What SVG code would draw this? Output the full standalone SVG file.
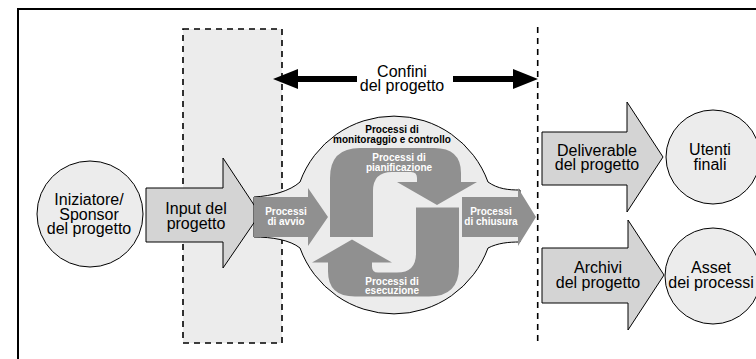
<svg xmlns="http://www.w3.org/2000/svg" width="756" height="359" viewBox="0 0 756 359">
  <defs>
    <style>
      .frame { fill: none; stroke: #000; stroke-width: 2; }
      .dash { stroke: #000; stroke-width: 1.6; stroke-dasharray: 6 5; }
      .pale { fill: #ececec; }
      .node { fill: #ececec; stroke: #000; stroke-width: 1; }
      .flow { fill: #d4d4d4; stroke: #000; stroke-width: 1; }
      .proc { fill: #909090; }
      .lbl { font-family: "Liberation Sans", Arial, sans-serif; font-size: 16px; fill: #000; text-anchor: middle; }
      .plbl { font-family: "Liberation Sans", Arial, sans-serif; font-size: 10px; font-weight: bold; fill: #fff; text-anchor: middle; }
      .mlbl { font-family: "Liberation Sans", Arial, sans-serif; font-size: 10px; font-weight: bold; fill: #000; text-anchor: middle; }
    </style>
    <!-- bent process arrow, drawn once and reused rotated -->
    <path id="hook" d="M 330,237 L 330,178 Q 330,148 360,148 L 434,148 Q 461,148 461,173 L 461,182 L 477,182 L 437,205 L 397,182 L 417,182 L 417,178 Q 417,172 411,172 L 392,172 Q 373,172 373,191 L 373,237 Z"/>
  </defs>

  <!-- outer frame (runs past the right and bottom edges) -->
  <rect class="frame" x="18" y="9" width="760" height="360"/>

  <!-- project boundary zone -->
  <g id="boundary">
    <rect class="pale" x="183" y="29" width="99" height="314"/>
    <rect x="183" y="29" width="99" height="314" fill="none" class="dash"/>
    <line class="dash" x1="537.7" y1="27" x2="537.7" y2="344"/>
  </g>

  <!-- connectors -->
  <g id="connectors">
    <g id="boundary-arrows" fill="#000">
      <rect x="296" y="76" width="61" height="6"/>
      <polygon points="273,79 298,69 298,89"/>
      <rect x="453" y="76" width="62" height="6"/>
      <polygon points="538,79 513,69 513,89"/>
    </g>
  </g>
  <text class="lbl" x="402" y="76.5">Confini</text>
  <text class="lbl" x="402" y="91">del progetto</text>

  <g id="sponsor">
    <circle class="node" cx="90" cy="214" r="53"/>
    <text class="lbl" x="89" y="205">Iniziatore/</text>
    <text class="lbl" x="89" y="219.5">Sponsor</text>
    <text class="lbl" x="89" y="234">del progetto</text>
  </g>

  <g id="input">
    <polygon class="flow" points="146,188 223,188 223,158 260,214 223,268 223,242 146,242"/>
    <text class="lbl" x="196" y="214">Input del</text>
    <text class="lbl" x="196" y="228.5">progetto</text>
  </g>

  <g id="processes">
    <path class="node" stroke-width="1.5" d="M 254,197 C 272,196 290,191 300,182 A 100 100 0 0 1 488,182 C 498,189 508,190 520,190 L 520,242 C 508,242 498,243 488,248 A 100 100 0 0 1 300,248 C 290,240 272,237 254,237 Z"/>
    <text class="mlbl" x="392" y="132.5">Processi di</text>
    <text class="mlbl" x="392" y="143">monitoraggio e controllo</text>

    <g id="initiating">
      <polygon class="proc" points="254,197 308,197 308,188 328,217 308,246 308,237 254,237"/>
      <text class="plbl" x="286" y="215">Processi</text>
      <text class="plbl" x="286" y="224.5">di avvio</text>
    </g>

    <g id="planning">
      <use href="#hook" class="proc"/>
      <text class="plbl" x="399" y="161">Processi di</text>
      <text class="plbl" x="399" y="170.5">pianificazione</text>
    </g>

    <g id="executing">
      <use href="#hook" class="proc" transform="rotate(180 394.5 222.3)"/>
      <text class="plbl" x="392" y="284.5">Processi di</text>
      <text class="plbl" x="392" y="294">esecuzione</text>
    </g>

    <g id="closing">
      <polygon class="proc" points="462,197 518,197 518,188 536,217 518,246 518,237 462,237"/>
      <text class="plbl" x="491" y="215">Processi</text>
      <text class="plbl" x="491" y="224.5">di chiusura</text>
    </g>
  </g>

  <g id="deliverables">
    <polygon class="flow" points="542,132 627,132 627,102 663,157 627,212 627,185 542,185"/>
    <text class="lbl" x="597" y="155.5">Deliverable</text>
    <text class="lbl" x="597" y="170">del progetto</text>
  </g>

  <g id="end-users">
    <circle class="node" cx="713" cy="157" r="47"/>
    <text class="lbl" x="710" y="155">Utenti</text>
    <text class="lbl" x="710" y="169.5">finali</text>
  </g>

  <g id="archives">
    <polygon class="flow" points="542,248 628,248 628,220 664,275 628,330 628,303 542,303"/>
    <text class="lbl" x="598" y="273">Archivi</text>
    <text class="lbl" x="598" y="287.5">del progetto</text>
  </g>

  <g id="assets">
    <circle class="node" cx="713" cy="276" r="48"/>
    <text class="lbl" x="711" y="273">Asset</text>
    <text class="lbl" x="711" y="288">dei processi</text>
  </g>
</svg>
